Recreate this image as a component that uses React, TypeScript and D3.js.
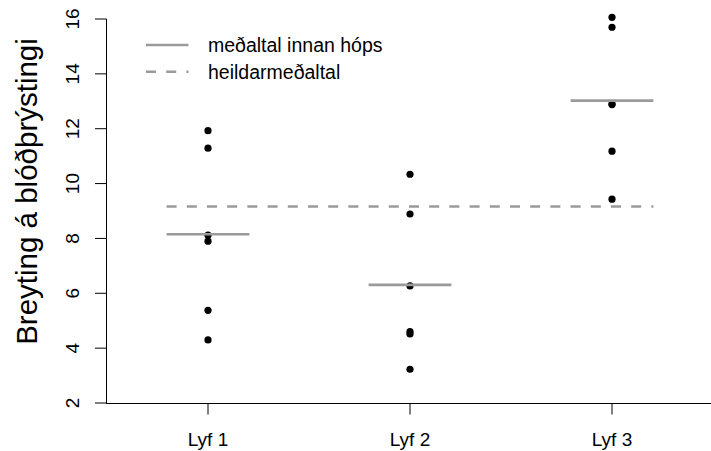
import React from "react";
import * as d3 from "d3";

const groups = ["Lyf 1", "Lyf 2", "Lyf 3"];
const lyf1 = [11.93, 11.29, 8.12, 7.9, 5.38, 4.3];
const lyf2 = [10.34, 8.89, 6.27, 4.6, 4.52, 3.23];
const lyf3 = [16.06, 15.7, 12.9, 12.88, 11.18, 9.43];
const yTicks = [2, 4, 6, 8, 10, 12, 14, 16];
const legendLabels = ["meðaltal innan hóps", "heildarmeðaltal"];
const yLabel = "Breyting á blóðþrýstingi";

const W = 711;
const H = 451;
const FONT = "'Liberation Sans', Arial, Helvetica, sans-serif";
const GREY = "#9a9a9a";

export default function App() {
  const series = [lyf1, lyf2, lyf3];
  const x = d3.scaleLinear().domain([0.5, 3.5]).range([107, 713]);
  const y = d3.scaleLinear().domain([2, 16]).range([403, 19]);
  const means = series.map((s) => d3.mean(s) as number);
  const grand = d3.mean(series.flat()) as number;
  const half = 0.205;

  return (
    <svg
      width={W}
      height={H}
      style={{ position: "absolute", left: 0, top: 0, background: "#fff" }}
      fontFamily={FONT}
    >
      <rect x={0} y={0} width={W} height={H} fill="#fff" />
      {/* points */}
      {series.map((s, gi) =>
        s.map((v, i) => (
          <circle key={`p${gi}-${i}`} cx={x(gi + 1)} cy={y(v)} r={3.6} fill="#000" />
        ))
      )}
      {/* group means */}
      {means.map((m, gi) => (
        <line
          key={`m${gi}`}
          x1={x(gi + 1 - half)}
          x2={x(gi + 1 + half)}
          y1={y(m)}
          y2={y(m)}
          stroke={GREY}
          strokeWidth={2.6}
        />
      ))}
      {/* grand mean */}
      <line
        x1={x(1 - half)}
        x2={x(3 + half)}
        y1={y(grand)}
        y2={y(grand)}
        stroke={GREY}
        strokeWidth={2.6}
        strokeDasharray="10 10.2"
      />
      {/* y axis */}
      <line x1={106.5} x2={106.5} y1={y(2)} y2={y(16)} stroke="#000" strokeWidth={1} />
      {yTicks.map((t) => (
        <g key={`yt${t}`}>
          <line x1={95} x2={106.5} y1={y(t)} y2={y(t)} stroke="#000" strokeWidth={1} />
          <text
            transform={`translate(79,${y(t)}) rotate(-90)`}
            textAnchor="middle"
            fontSize={19}
            fill="#000"
          >
            {t}
          </text>
        </g>
      ))}
      {/* x axis */}
      <line x1={106} x2={W} y1={403.5} y2={403.5} stroke="#000" strokeWidth={1} />
      {groups.map((g, gi) => (
        <g key={`xt${g}`}>
          <line x1={x(gi + 1)} x2={x(gi + 1)} y1={403.5} y2={414.5} stroke="#000" strokeWidth={1} />
          <text x={x(gi + 1)} y={446} textAnchor="middle" fontSize={19} fill="#000">
            {g}
          </text>
        </g>
      ))}
      {/* y label */}
      <text
        transform={`translate(37,191.5) rotate(-90)`}
        textAnchor="middle"
        fontSize={29.5}
        fill="#000"
      >
        {yLabel}
      </text>
      {/* legend */}
      <line x1={146} x2={188.5} y1={45} y2={45} stroke={GREY} strokeWidth={2.6} />
      <line
        x1={146}
        x2={188.5}
        y1={71.7}
        y2={71.7}
        stroke={GREY}
        strokeWidth={2.6}
        strokeDasharray="10 10.2"
      />
      <text x={208} y={45} dy="0.35em" fontSize={19.5} fill="#000">
        {legendLabels[0]}
      </text>
      <text x={208} y={71.7} dy="0.35em" fontSize={19.5} fill="#000">
        {legendLabels[1]}
      </text>
    </svg>
  );
}
